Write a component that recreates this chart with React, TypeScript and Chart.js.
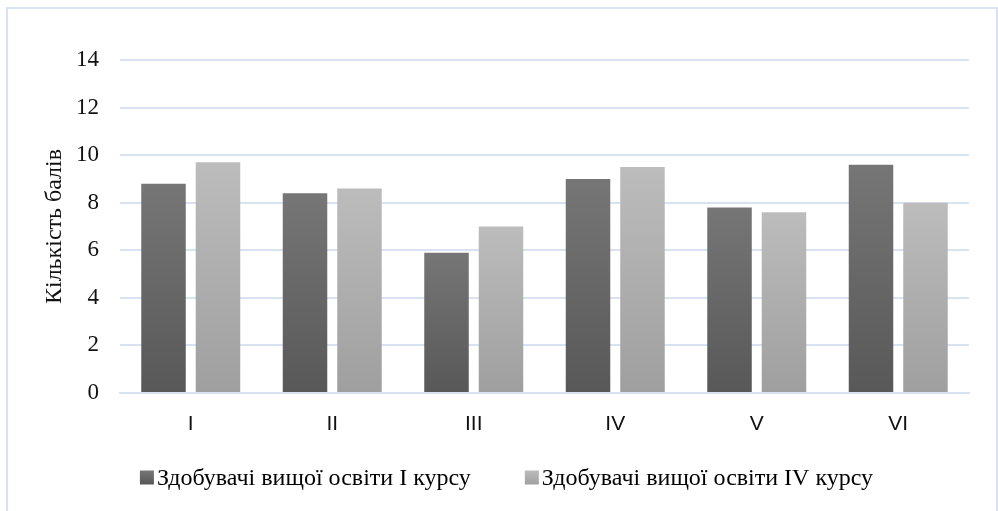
import React, { useEffect, useRef } from "react";
import { Chart, registerables } from "chart.js";

Chart.register(...registerables);

const categories = ["I", "II", "III", "IV", "V", "VI"];
const firstYear = [8.8, 8.4, 5.9, 9.0, 7.8, 9.6];
const fourthYear = [9.7, 8.6, 7.0, 9.5, 7.6, 8.0];
const seriesNames = [
  "Здобувачі вищої освіти I курсу",
  "Здобувачі вищої освіти IV курсу",
];
const yTitle = "Кількість балів";

const darkStops = ["#767676", "#585858"];
const lightStops = ["#bcbcbc", "#9f9f9f"];

function gradientFill(stops: string[]) {
  return (ctx: any) => {
    const chart = ctx.chart;
    if (!chart.chartArea || ctx.type !== "data" || !ctx.parsed) return stops[0];
    const y = chart.scales.y;
    const top = y.getPixelForValue(ctx.parsed.y);
    const bottom = y.getPixelForValue(0);
    const g = chart.ctx.createLinearGradient(0, top, 0, bottom);
    g.addColorStop(0, stops[0]);
    g.addColorStop(1, stops[1]);
    return g;
  };
}

const framePlugin = {
  id: "frame",
  beforeDraw(chart: any) {
    const c = chart.ctx;
    c.save();
    c.fillStyle = "#ffffff";
    c.fillRect(0, 0, chart.width, chart.height);
    c.strokeStyle = "#d9e2f0";
    c.lineWidth = 2;
    c.strokeRect(7, 8, 990, 600);
    c.restore();
  },
};

const legendPlugin = {
  id: "customLegend",
  afterDraw(chart: any) {
    const c = chart.ctx;
    const font = "24px 'Liberation Serif', 'Times New Roman', serif";
    c.save();
    c.font = font;
    const box = 14;
    const gapBoxText = 3;
    const gapItems = 54;
    const items = chart.data.datasets.map((ds: any, i: number) => ({
      label: ds.label,
      stops: i === 0 ? darkStops : lightStops,
      w: c.measureText(ds.label).width,
    }));
    let total = 0;
    items.forEach((it: any, i: number) => {
      total += box + gapBoxText + it.w + (i < items.length - 1 ? gapItems : 0);
    });
    let x = 506.5 - total / 2;
    const cy = 477.5;
    items.forEach((it: any) => {
      const g = c.createLinearGradient(0, cy - box / 2, 0, cy + box / 2);
      g.addColorStop(0, it.stops[0]);
      g.addColorStop(1, it.stops[1]);
      c.fillStyle = g;
      c.fillRect(x, cy - box / 2, box, box);
      x += box + gapBoxText;
      c.fillStyle = "#000";
      c.textBaseline = "middle";
      c.textAlign = "left";
      c.fillText(it.label, x, cy + 1);
      x += it.w + gapItems;
    });
    c.restore();
  },
};

export default function App() {
  const ref = useRef<HTMLCanvasElement>(null);
  useEffect(() => {
    document.body.style.margin = "0";
    const chart = new Chart(ref.current!, {
      type: "bar",
      data: {
        labels: categories,
        datasets: [
          {
            label: seriesNames[0],
            data: firstYear,
            backgroundColor: gradientFill(darkStops),
            categoryPercentage: 0.77,
            barPercentage: 0.817,
          },
          {
            label: seriesNames[1],
            data: fourthYear,
            backgroundColor: gradientFill(lightStops),
            categoryPercentage: 0.77,
            barPercentage: 0.817,
          },
        ],
      },
      options: {
        responsive: false,
        animation: false,
        devicePixelRatio: 1,
        layout: { padding: { left: 0, top: 60, right: 29, bottom: 0 } },
        plugins: {
          legend: { display: false },
          tooltip: { enabled: false },
        },
        scales: {
          x: {
            grid: { display: false, drawTicks: false },
            border: { display: true, color: "#d9e2f0", width: 2 },
            ticks: {
              padding: 19,
              color: "#111",
              font: { family: "'Liberation Sans', Arial, sans-serif", size: 21 },
            },
            afterFit(scale: any) {
              scale.height = 118;
            },
          },
          y: {
            min: 0,
            max: 14,
            ticks: {
              stepSize: 2,
              padding: 21,
              color: "#111",
              font: { family: "'Liberation Serif', 'Times New Roman', serif", size: 23 },
            },
            grid: { color: "#d9e2f0", lineWidth: 2, drawTicks: false },
            border: { display: false },
            title: {
              display: true,
              text: yTitle,
              color: "#111",
              padding: { top: 40, bottom: 0 },
              font: { family: "'Liberation Serif', 'Times New Roman', serif", size: 24 },
            },
            afterFit(scale: any) {
              scale.width = 120;
            },
          },
        },
      },
      plugins: [framePlugin, legendPlugin],
    });
    return () => chart.destroy();
  }, []);
  return (
    <div style={{ position: "fixed", left: 0, top: 0, width: 998, height: 511 }}>
      <canvas ref={ref} width={998} height={511} style={{ display: "block" }} />
    </div>
  );
}
